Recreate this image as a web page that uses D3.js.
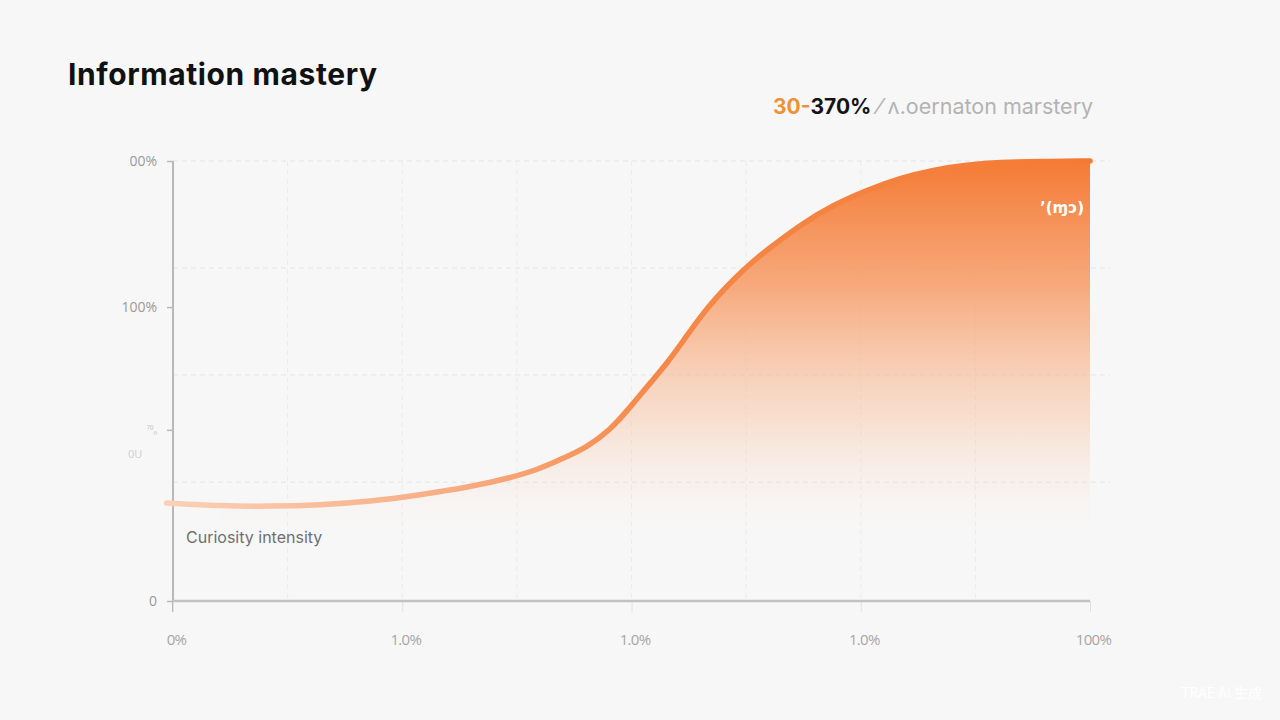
<!DOCTYPE html>
<html><head><meta charset="utf-8">
<script src="https://cdn.jsdelivr.net/npm/d3@7"></script>
<style>
html,body{margin:0;padding:0;background:#f7f7f7;}
svg{display:block;}
</style></head>
<body>
<script>
// ---- data ----
const curveX = [-0.7, 5.1, 10.6, 16.0, 21.5, 26.9, 32.4, 36.8, 39.7, 42.2, 45.2, 47.7, 49.8, 52.3, 53.9, 55.7, 57.5, 59.3, 61.1, 62.9, 64.8, 68.4, 72.0, 75.7, 79.3, 82.9, 86.6, 90.2, 94.6, 100];
const curveY = [22.3, 21.6, 21.5, 21.8, 22.6, 24.1, 25.9, 28.0, 29.8, 32.1, 35.0, 38.9, 43.9, 50.2, 54.1, 59.3, 64.6, 69.1, 73.0, 76.6, 79.8, 85.5, 90.0, 93.4, 96.1, 98.0, 99.1, 99.7, 99.9, 100];
const xTickValues = [0, 25, 50, 75, 100];
const xTickLabels = ["0%", "1.0%", "1.0%", "1.0%", "100%"];
const yTickValues = [0, 38.9, 66.8, 100];
const yTickLabels = ["0", "\u2077\u2070\u2080", "100%", "00%"];
const yGridValues = [27, 51.4, 75.7, 100];
const xGridValues = [12.5, 25, 37.5, 50, 62.5, 75, 87.5];
const title = "Information mastery";
const headlineA = "30-";
const headlineB = "370%";
const headlineC = "\u2044 \u028c.oernaton marstery";
const seriesLabel = "Curiosity intensity";
const endLabel = "\u2019(\u0271\u0254)";

// ---- drawing ----
const W = 1280, H = 720;
const svg = d3.select("body").append("svg").attr("width", W).attr("height", H);
svg.append("rect").attr("width", W).attr("height", H).attr("fill", "#f7f7f7");

const x = d3.scaleLinear().domain([0, 100]).range([173, 1090]);
const y = d3.scaleLinear().domain([0, 100]).range([601, 161]);

const defs = svg.append("defs");
const fillGrad = defs.append("linearGradient").attr("id", "fillGrad")
  .attr("gradientUnits", "userSpaceOnUse")
  .attr("x1", 0).attr("x2", 0).attr("y1", y(100)).attr("y2", y(17));
fillGrad.append("stop").attr("offset", "0%").attr("stop-color", "#f57a34").attr("stop-opacity", 1);
fillGrad.append("stop").attr("offset", "35%").attr("stop-color", "#f69d68").attr("stop-opacity", 0.85);
fillGrad.append("stop").attr("offset", "72%").attr("stop-color", "#f8c4a4").attr("stop-opacity", 0.45);
fillGrad.append("stop").attr("offset", "100%").attr("stop-color", "#fbe3d4").attr("stop-opacity", 0);

const lineGrad = defs.append("linearGradient").attr("id", "lineGrad")
  .attr("gradientUnits", "userSpaceOnUse")
  .attr("x1", x(0)).attr("x2", x(100)).attr("y1", 0).attr("y2", 0);
lineGrad.append("stop").attr("offset", "0%").attr("stop-color", "#fad0b6");
lineGrad.append("stop").attr("offset", "35%").attr("stop-color", "#f7a77a");
lineGrad.append("stop").attr("offset", "52%").attr("stop-color", "#f5894a");
lineGrad.append("stop").attr("offset", "100%").attr("stop-color", "#f47a34");

// grid
const grid = svg.append("g");
grid.selectAll("line.hg").data(yGridValues).join("line")
  .attr("x1", x(0)).attr("x2", x(100) + 20)
  .attr("y1", d => y(d)).attr("y2", d => y(d))
  .attr("stroke", "#e4e4e4").attr("stroke-width", 1).attr("stroke-dasharray", "5,4");
grid.selectAll("line.vg").data(xGridValues).join("line")
  .attr("x1", d => x(d)).attr("x2", d => x(d))
  .attr("y1", y(100)).attr("y2", y(0))
  .attr("stroke", "#ebebeb").attr("stroke-width", 1).attr("stroke-dasharray", "5,4");

const pts = curveX.map((d, i) => [d, curveY[i]]);

// area
const area = d3.area().x(d => x(d[0])).y0(y(0)).y1(d => y(d[1])).curve(d3.curveBasis);
svg.append("path").datum(pts.filter(d => d[0] >= 0)).attr("d", area).attr("fill", "url(#fillGrad)");

// axes
const yAxis = d3.axisLeft(y).tickValues(yTickValues).tickFormat((d, i) => yTickLabels[i]).tickSize(6).tickPadding(10);
const gy = svg.append("g").attr("transform", `translate(${x(0)},0)`).call(yAxis);
gy.select(".domain").remove();
gy.selectAll(".tick line").attr("stroke", "#b8b8b8").attr("stroke-width", 1.5);
gy.selectAll(".tick text").attr("font-family", "Open Sans, sans-serif")
  .attr("font-size", (d, i) => i === 1 ? 10 : 14).attr("fill", (d, i) => i === 1 ? "#c8c8c8" : "#9a9a9a");
svg.append("text").attr("x", 128).attr("y", 458).attr("font-family", "Open Sans, sans-serif").attr("font-size", 11)
  .attr("fill", "#cfcfcf").text("0U");
svg.append("line").attr("x1", x(0)).attr("x2", x(0)).attr("y1", y(100)).attr("y2", y(0) + 11)
  .attr("stroke", "#b8b8b8").attr("stroke-width", 2);

const xAxis = d3.axisBottom(x).tickValues(xTickValues).tickFormat((d, i) => xTickLabels[i]).tickSize(11).tickPadding(22);
const gx = svg.append("g").attr("transform", `translate(0,${y(0)})`).call(xAxis);
gx.select(".domain").remove();
gx.selectAll(".tick line").attr("stroke", "#e2e2e2").attr("stroke-width", 1);
gx.selectAll(".tick text").attr("fill", "#a6a6a6").attr("font-family", "Open Sans, sans-serif").attr("font-size", 15)
  .attr("letter-spacing", "-0.7").attr("dx", 3);
svg.append("line").attr("x1", x(0)).attr("x2", x(100)).attr("y1", y(0)).attr("y2", y(0))
  .attr("stroke", "#c2c2c2").attr("stroke-width", 2.5);

// line
const line = d3.line().x(d => x(d[0])).y(d => y(d[1])).curve(d3.curveBasis);
svg.append("path").datum(pts).attr("d", line).attr("fill", "none")
  .attr("stroke", "url(#lineGrad)").attr("stroke-width", 5.5).attr("stroke-linecap", "round");

// labels
svg.append("text").attr("x", 68).attr("y", 85).attr("font-family", "Inter, sans-serif").attr("font-weight", 700)
  .attr("font-size", 30).attr("fill", "#111").attr("letter-spacing", "0.6").text(title);

const hl = svg.append("text").attr("x", 773).attr("y", 114).attr("font-family", "Inter, sans-serif").attr("font-size", 21);
hl.append("tspan").attr("fill", "#f0913a").attr("font-weight", 700).text(headlineA);
hl.append("tspan").attr("fill", "#141414").attr("font-weight", 700).text(headlineB);
hl.append("tspan").attr("fill", "#b3b3b3").attr("font-weight", 400).attr("font-size", 21.5).attr("dx", 6).text(headlineC);

svg.append("text").attr("x", 186).attr("y", 543).attr("font-family", "Inter, sans-serif").attr("font-size", 16)
  .attr("fill", "#6f6f6f").text(seriesLabel);

svg.append("text").attr("x", 1084).attr("y", 213).attr("text-anchor", "end").attr("font-family", "DejaVu Sans, sans-serif")
  .attr("font-size", 15).attr("font-weight", 700).attr("fill", "#ffffff").text(endLabel);

svg.append("text").attr("x", 1262).attr("y", 698).attr("text-anchor", "end").attr("font-family", "Noto Sans CJK SC, sans-serif")
  .attr("font-size", 14).attr("fill", "#ffffff").text("TRAE AI 生成");
</script>
</body></html>
